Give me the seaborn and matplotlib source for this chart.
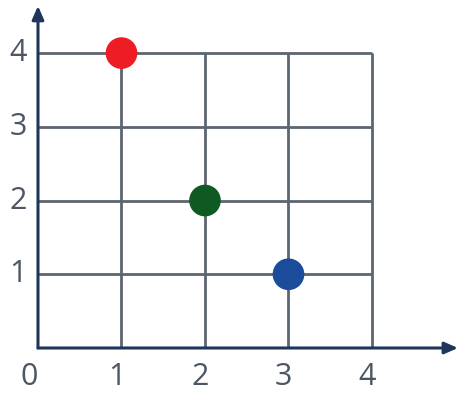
import pandas as pd
import matplotlib.pyplot as plt
import seaborn as sns

# points on the grid
point_x = [1, 2, 3]
point_y = [4, 2, 1]
point_names = ["red", "green", "blue"]
point_colors = ["#ee1c25", "#0f5a22", "#1a4c9a"]

grid_values = [1, 2, 3, 4]
tick_labels = ["0", "1", "2", "3", "4"]

df = pd.DataFrame({"x": point_x, "y": point_y, "name": point_names})

sns.set_style("white")
plt.rcParams['font.family'] = ['Open Sans', 'DejaVu Sans']

fig = plt.figure(figsize=(4.58, 3.94), dpi=100)
ax = fig.add_axes([0, 0, 1, 1])

grid_color = "#5c666f"
axis_color = "#1f3559"
label_color = "#4d5764"

# grid lines
ax.vlines(grid_values, 0, 4, color=grid_color, lw=2.0, zorder=1)
ax.hlines(grid_values, 0, 4, color=grid_color, lw=2.0, zorder=1)

# axes with arrows
ax.annotate("", xy=(5.03, 0), xytext=(0, 0),
            arrowprops=dict(arrowstyle="-|>,head_length=0.8,head_width=0.35",
                            color=axis_color, lw=2.2, shrinkA=0, shrinkB=0))
ax.annotate("", xy=(0, 4.64), xytext=(0, 0),
            arrowprops=dict(arrowstyle="-|>,head_length=0.8,head_width=0.35",
                            color=axis_color, lw=2.2, shrinkA=0, shrinkB=0))

# tick labels
for i, lab in enumerate(tick_labels):
    xpos = i - 0.06 if i else -0.1
    ax.text(xpos, -0.4, lab, ha="center", va="center", fontsize=22, color=label_color)
for i, lab in enumerate(tick_labels[1:], start=1):
    ax.text(-0.24, i, lab, ha="center", va="center", fontsize=22, color=label_color)

sns.scatterplot(data=df, x="x", y="y", hue="name", palette=point_colors,
                s=520, edgecolor="none", legend=False, ax=ax, zorder=3)
ax.set_xlim(-0.455, 5.03)
ax.set_ylim(-0.624, 4.72)
ax.axis("off")

fig.savefig("out.png", dpi=100)
